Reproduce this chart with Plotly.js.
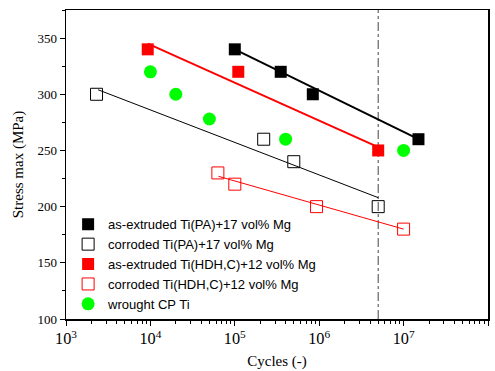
<!DOCTYPE html>
<html>
<head>
<meta charset="utf-8">
<script src="https://cdn.plot.ly/plotly-3.0.1.min.js"></script>
<style>html,body{margin:0;padding:0;background:#fff;}#chart{width:495px;height:371px;}</style>
</head>
<body>
<div id="chart"></div>
<script>
// Series data (cycles, stress max in MPa)
const pa_ext_x = [1e5, 3.5e5, 8.4e5, 1.5e7];
const pa_ext_y = [340, 320, 300, 260];
const pa_cor_x = [2.3e3, 2.2e5, 5e5, 5e6];
const pa_cor_y = [300, 260, 240, 200];
const hdh_ext_x = [9.3e3, 1.1e5, 5e6];
const hdh_ext_y = [340, 320, 250];
const hdh_cor_x = [6.3e4, 1e5, 9.3e5, 1e7];
const hdh_cor_y = [230, 220, 200, 180];
const cp_x = [1e4, 2e4, 5e4, 4e5, 1e7];
const cp_y = [320, 300, 278, 260, 250];

// Fitted trend lines (endpoints)
const fit_pa_ext_x = [1e5, 1.5e7];
const fit_pa_ext_y = [340, 260];
const fit_pa_cor_x = [2.4e3, 5e6];
const fit_pa_cor_y = [304, 208];
const fit_hdh_ext_x = [9.3e3, 5e6];
const fit_hdh_ext_y = [345, 253];
const fit_hdh_cor_x = [6.4e4, 1e7];
const fit_hdh_cor_y = [227, 180];

// Vertical reference line
const vline_x = [5e6, 5e6];
const vline_y = [100, 375];

const names = [
  'as-extruded Ti(PA)+17 vol% Mg',
  'corroded Ti(PA)+17 vol% Mg',
  'as-extruded Ti(HDH,C)+12 vol% Mg',
  'corroded Ti(HDH,C)+12 vol% Mg',
  'wrought CP Ti'
];

const traces = [
  {x: vline_x, y: vline_y, mode: 'lines', line: {color: '#444', width: 1, dash: 'dashdot'}, showlegend: false, hoverinfo: 'skip'},
  {x: fit_pa_ext_x, y: fit_pa_ext_y, mode: 'lines', line: {color: '#000', width: 2}, showlegend: false},
  {x: fit_pa_cor_x, y: fit_pa_cor_y, mode: 'lines', line: {color: '#000', width: 1}, showlegend: false},
  {x: fit_hdh_ext_x, y: fit_hdh_ext_y, mode: 'lines', line: {color: '#ff0000', width: 2}, showlegend: false},
  {x: fit_hdh_cor_x, y: fit_hdh_cor_y, mode: 'lines', line: {color: '#ff0000', width: 1}, showlegend: false},
  {x: pa_ext_x, y: pa_ext_y, mode: 'markers', name: names[0],
   marker: {symbol: 'square', size: 12, color: '#000', line: {width: 0}}},
  {x: pa_cor_x, y: pa_cor_y, mode: 'markers', name: names[1],
   marker: {symbol: 'square-open', size: 12, color: '#000', line: {width: 1}}},
  {x: hdh_ext_x, y: hdh_ext_y, mode: 'markers', name: names[2],
   marker: {symbol: 'square', size: 12, color: '#ff0000', line: {width: 0}}},
  {x: hdh_cor_x, y: hdh_cor_y, mode: 'markers', name: names[3],
   marker: {symbol: 'square-open', size: 12, color: '#ff0000', line: {width: 1}}},
  {x: cp_x, y: cp_y, mode: 'markers', name: names[4],
   marker: {symbol: 'circle', size: 13, color: '#00ff00', line: {width: 0}}}
];

const serif = 'Liberation Serif, Times New Roman, serif';
const layout = {
  width: 495, height: 371,
  margin: {l: 66, r: 7, t: 10, b: 52},
  paper_bgcolor: '#fff', plot_bgcolor: '#fff',
  showlegend: true,
  legend: {
    x: 0.005, y: 0.355, xanchor: 'left', yanchor: 'top',
    bgcolor: 'rgba(0,0,0,0)', borderwidth: 0,
    font: {family: 'Liberation Sans, Arial, sans-serif', size: 13, color: '#000'},
    tracegroupgap: 0
  },
  xaxis: {
    type: 'log', range: [3, 8], dtick: 1, exponentformat: 'power',
    showgrid: false, zeroline: false,
    showline: true, linecolor: '#000', linewidth: 1.5, mirror: true,
    ticks: 'outside', ticklen: 5, tickwidth: 1, tickcolor: '#000',
    minor: {ticks: 'outside', ticklen: 3, tickwidth: 1, tickcolor: '#000', showgrid: false},
    tickfont: {family: serif, size: 13, color: '#000'},
    title: {text: 'Cycles (-)', font: {family: serif, size: 15, color: '#000'}, standoff: 8}
  },
  yaxis: {
    range: [100, 375], dtick: 50, tick0: 100,
    showgrid: false, zeroline: false,
    showline: true, linecolor: '#000', linewidth: 1.5, mirror: true,
    ticks: 'outside', ticklen: 5, tickwidth: 1, tickcolor: '#000',
    minor: {ticks: 'outside', ticklen: 3, tickwidth: 1, tickcolor: '#000', dtick: 25, showgrid: false},
    tickfont: {family: serif, size: 13, color: '#000'},
    title: {text: 'Stress max (MPa)', font: {family: serif, size: 15, color: '#000'}, standoff: 10}
  }
};

Plotly.newPlot('chart', traces, layout, {displayModeBar: false, staticPlot: true});
</script>
</body>
</html>
